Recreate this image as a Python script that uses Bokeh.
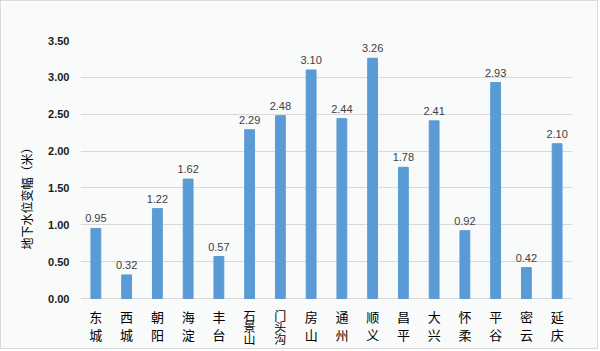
from bokeh.plotting import figure
from bokeh.models import ColumnDataSource, LabelSet, FixedTicker, NumeralTickFormatter, Range1d
from bokeh.core.properties import value
from bokeh.embed import file_html
from bokeh.resources import INLINE

districts = ['东城', '西城', '朝阳', '海淀', '丰台', '石景山', '门头沟', '房山',
             '通州', '顺义', '昌平', '大兴', '怀柔', '平谷', '密云', '延庆']
values = [0.95, 0.32, 1.22, 1.62, 0.57, 2.29, 2.48, 3.10,
          2.44, 3.26, 1.78, 2.41, 0.92, 2.93, 0.42, 2.10]
y_ticks = [0.0, 0.5, 1.0, 1.5, 2.0, 2.5, 3.0, 3.5]
y_title = '地下水位变幅（米）'

src = ColumnDataSource(dict(d=districts, v=values, t=[f"{x:.2f}" for x in values]))

# vertical (stacked) category labels: one entry per character
cx, cy, ct, co, cs = [], [], [], [], []
for d in districts:
    n = len(d)
    pitch = 18 if n <= 2 else 11.5
    size = '13px' if n <= 2 else '12px'
    for i, ch in enumerate(d):
        cx.append(d)
        cy.append(0)
        ct.append(ch)
        co.append(8 + i * pitch)
        cs.append(size)
csrc = ColumnDataSource(dict(x=cx, y=cy, t=ct, o=co, s=cs))

p = figure(x_range=districts, y_range=Range1d(-0.705, 3.5), width=598, height=349,
           output_backend="svg", toolbar_location=None,
           min_border_left=79, min_border_right=27, min_border_top=39, min_border_bottom=0)
p.styles = {"border": "1px solid #d9d9d9"}
p.background_fill_color = "#f9fafa"
p.border_fill_color = "#f9fafa"
p.outline_line_color = None

p.vbar(x='d', top='v', width=0.32, source=src, color="#5b9bd5")

labels = LabelSet(x='d', y='v', text='t', source=src, text_align='center',
                  text_baseline='bottom', y_offset=6, text_font_size='11px',
                  text_font=value('Liberation Sans'), text_color='#404040')
p.add_layout(labels)

p.text(x='x', y='y', text='t', source=csrc, y_offset='o', text_align='center',
       text_baseline='top', text_font_size='s', text_font=value('Noto Sans CJK SC'),
       text_color='#000000')

p.ygrid.grid_line_color = "#d9d9d9"
p.xgrid.grid_line_color = None

p.yaxis.ticker = FixedTicker(ticks=y_ticks)
p.yaxis.formatter = NumeralTickFormatter(format="0.00")
p.yaxis.axis_line_color = None
p.yaxis.major_tick_line_color = None
p.yaxis.minor_tick_line_color = None
p.yaxis.major_label_text_font = "Liberation Sans"
p.yaxis.major_label_text_font_style = "bold"
p.yaxis.major_label_text_font_size = "11px"
p.yaxis.major_label_text_color = "#1a1a1a"
p.yaxis.major_label_standoff = 5
p.yaxis.axis_label = y_title
p.yaxis.axis_label_text_font = "Noto Sans CJK SC"
p.yaxis.axis_label_text_font_style = "normal"
p.yaxis.axis_label_text_font_size = "12px"
p.yaxis.axis_label_text_color = "#000000"
p.yaxis.axis_label_standoff = 10

p.xaxis.visible = False

open("out.html", "w").write(file_html(p, INLINE))
